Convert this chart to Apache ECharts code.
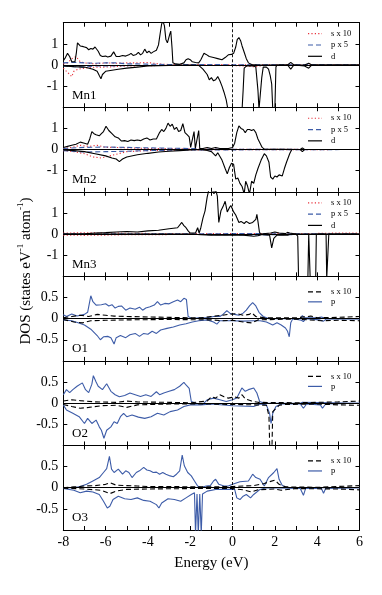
<!DOCTYPE html>
<html>
<head>
<meta charset="utf-8">
<script src="https://cdn.jsdelivr.net/npm/echarts@6/dist/echarts.min.js"></script>
<style>
  html, body { margin: 0; padding: 0; background: #fff; }
  #chart { width: 382px; height: 595px; }
</style>
</head>
<body>
<div id="chart"></div>
<script>
// energy tick labels (eV)
var xLabels = [-8, -6, -4, -2, 0, 2, 4, 6];

// ---- Mn1 ----
var mn1DUp = [[-8,0.2],[-7.9,0.35],[-7.8,0.55],[-7.7,0.4],[-7.6,0.15],[-7.45,0.15],[-7.38,0.6],[-7.33,1.05],[-7.2,0.9],[-7.1,0.88],[-7.0,0.85],[-6.9,0.82],[-6.8,0.72],[-6.7,0.78],[-6.6,0.75],[-6.5,0.85],[-6.42,0.92],[-6.35,0.65],[-6.25,0.45],[-6.15,0.4],[-6.0,0.42],[-5.9,0.38],[-5.75,0.42],[-5.62,0.62],[-5.5,0.4],[-5.35,0.4],[-5.2,0.45],[-5.05,0.42],[-4.9,0.48],[-4.8,0.55],[-4.7,0.45],[-4.55,0.5],[-4.45,0.6],[-4.35,0.48],[-4.25,0.55],[-4.15,0.75],[-4.05,0.58],[-3.95,0.65],[-3.85,0.55],[-3.75,0.62],[-3.6,0.7],[-3.5,0.95],[-3.42,1.5],[-3.35,1.95],[-3.28,2.05],[-3.22,1.85],[-3.15,1.2],[-3.08,1.05],[-3.02,1.1],[-2.97,1.45],[-2.92,1.6],[-2.86,0.8],[-2.82,0.1],[-2.7,0.05],[-2.5,0.03],[-2.3,0.1],[-2.2,0.25],[-2.1,0.3],[-2.0,0.25],[-1.9,0.15],[-1.75,0.12],[-1.6,0.1],[-1.5,0.25],[-1.35,0.55],[-1.25,0.5],[-1.1,0.4],[-0.9,0.35],[-0.7,0.3],[-0.5,0.25],[-0.35,0.35],[-0.2,0.48],[-0.05,0.5],[0.05,0.55],[0.15,0.85],[0.22,1.2],[0.3,1.3],[0.38,1.15],[0.45,0.9],[0.55,0.6],[0.65,0.3],[0.75,0.1],[0.9,0.02],[1.2,0],[2.6,0],[2.75,0.12],[2.9,0],[3.4,0],[3.6,0.08],[3.75,0],[6,0]];
var mn1DDn = [[-8,-0.05],[-7.5,-0.08],[-7.0,-0.1],[-6.6,-0.2],[-6.4,-0.3],[-6.3,-0.5],[-6.22,-0.65],[-6.15,-0.45],[-6.0,-0.3],[-5.7,-0.25],[-5.4,-0.2],[-5.0,-0.15],[-4.5,-0.1],[-4.0,-0.05],[-3.0,-0.02],[-2.0,0],[-1.6,-0.02],[-1.4,-0.2],[-1.2,-0.45],[-1.1,-0.7],[-1.0,-0.6],[-0.9,-0.75],[-0.8,-0.7],[-0.7,-0.55],[-0.6,-0.75],[-0.5,-1.0],[-0.4,-1.3],[-0.3,-1.65],[-0.22,-2.1],[0.45,-2.1],[0.5,-1.2],[0.55,-0.15],[0.65,-0.05],[0.8,-0.05],[1.0,-0.05],[1.1,-0.1],[1.2,-1.2],[1.25,-2.1],[1.33,-2.1],[1.38,-0.6],[1.45,-0.1],[1.6,-0.1],[1.7,-0.2],[1.78,-0.5],[1.85,-0.9],[1.9,-2.1],[2.0,-2.1],[2.05,-0.1],[2.1,0],[2.6,0],[2.75,-0.2],[2.9,0],[3.4,-0.05],[3.6,-0.15],[3.75,0],[6,0]];
var mn1SUp = [[-8,0.05],[-7.8,0.1],[-7.6,0.3],[-7.4,0.4],[-7.2,0.15],[-7,0.1],[-6.5,0.05],[-6,0.1],[-5.5,0.08],[-5,0.1],[-4.5,0.1],[-4,0.12],[-3.5,0.05],[-3,0.02],[-2,0.02],[-1,0.02],[0,0.01],[6,0.01]];
var mn1SDn = [[-8,-0.15],[-7.85,-0.3],[-7.7,-0.45],[-7.6,-0.55],[-7.5,-0.3],[-7.3,-0.2],[-7,-0.15],[-6.5,-0.1],[-6,-0.1],[-5,-0.05],[-4,-0.03],[-2,-0.02],[0,-0.02],[1,-0.08],[1.5,-0.02],[6,-0.01]];
var mn1PUp = [[-8,0.1],[-7.5,0.12],[-7,0.1],[-6.5,0.08],[-6,0.1],[-5.5,0.1],[-5,0.05],[-4.5,0.05],[-4,0.04],[-3.5,0.03],[-3,0.02],[-2,0.02],[-1,0.02],[0,0.01],[1,0.01],[6,0]];
var mn1PDn = [[-8,-0.05],[-7.5,-0.08],[-7,-0.1],[-6.5,-0.05],[-6,-0.05],[-5,-0.03],[-4,-0.02],[-2,-0.01],[0,-0.02],[6,0]];

// ---- Mn2 ----
var mn2DUp = [[-8,0.1],[-7.8,0.15],[-7.6,0.2],[-7.4,0.25],[-7.2,0.35],[-7.0,0.3],[-6.85,0.25],[-6.75,0.5],[-6.65,0.85],[-6.55,0.75],[-6.45,0.7],[-6.3,0.65],[-6.2,0.75],[-6.1,0.85],[-5.98,1.1],[-5.85,0.9],[-5.7,0.75],[-5.55,0.6],[-5.4,0.55],[-5.25,0.4],[-5.1,0.42],[-4.95,0.38],[-4.8,0.45],[-4.65,0.42],[-4.5,0.45],[-4.35,0.42],[-4.2,0.5],[-4.05,0.55],[-3.9,0.45],[-3.75,0.5],[-3.6,0.5],[-3.45,0.8],[-3.35,0.95],[-3.25,0.85],[-3.15,1.0],[-3.05,1.25],[-2.95,1.1],[-2.85,1.2],[-2.75,0.95],[-2.65,1.05],[-2.55,0.85],[-2.45,0.9],[-2.35,1.22],[-2.25,0.8],[-2.15,0.7],[-2.05,0.6],[-1.98,0.1],[-1.9,0.05],[-1.82,0.85],[-1.76,0.05],[-1.68,0.05],[-1.6,0.9],[-1.55,0.05],[-1.4,0.05],[-1.2,0.1],[-1.0,0.05],[-0.8,0.1],[-0.6,0.05],[-0.4,0.05],[-0.2,0.05],[0,0.1],[0.1,0.3],[0.2,0.8],[0.3,1.12],[0.4,1.0],[0.5,0.95],[0.6,0.8],[0.7,0.95],[0.8,0.95],[0.9,0.9],[1.0,0.95],[1.1,0.8],[1.2,0.5],[1.3,0.3],[1.4,0.1],[1.5,0.02],[3.2,0],[3.3,0.08],[3.4,0],[6,0]];
var mn2DDn = [[-8,-0.02],[-7.5,-0.05],[-7,-0.1],[-6.5,-0.2],[-6,-0.3],[-5.7,-0.4],[-5.5,-0.45],[-5.35,-0.57],[-5.2,-0.45],[-5,-0.35],[-4.5,-0.25],[-4,-0.18],[-3.5,-0.12],[-3,-0.08],[-2.5,-0.05],[-2,-0.02],[-1.5,0],[-1.2,-0.05],[-1.0,-0.1],[-0.8,-0.3],[-0.7,-0.15],[-0.5,-0.5],[-0.35,-0.9],[-0.25,-1.15],[-0.15,-0.85],[-0.05,-0.65],[0.05,-0.7],[0.15,-1.4],[0.25,-1.35],[0.35,-1.6],[0.45,-1.75],[0.55,-2.1],[0.62,-1.5],[0.7,-1.7],[0.8,-2.1],[0.9,-1.5],[1.0,-1.6],[1.1,-1.2],[1.2,-0.9],[1.35,-0.5],[1.5,-0.2],[1.6,-0.3],[1.72,-0.6],[1.8,-1.3],[1.9,-1.4],[2.0,-1.25],[2.1,-1.3],[2.2,-1.2],[2.35,-1.25],[2.45,-0.9],[2.55,-0.6],[2.7,-0.2],[2.8,0],[3.2,0],[3.3,-0.1],[3.4,0],[6,0]];
var mn2SUp = [[-8,0.05],[-7.6,0.1],[-7.2,0.2],[-6.8,0.15],[-6.4,0.2],[-6,0.1],[-5.5,0.1],[-5,0.08],[-4,0.05],[-3,0.05],[-2,0.03],[0,0.01],[6,0]];
var mn2SDn = [[-8,-0.05],[-7.5,-0.1],[-7,-0.2],[-6.6,-0.35],[-6.2,-0.4],[-5.8,-0.3],[-5.4,-0.2],[-5,-0.1],[-4,-0.05],[-2,-0.02],[0,-0.01],[6,0]];
var mn2PUp = [[-8,0.05],[-7,0.1],[-6,0.12],[-5,0.1],[-4,0.08],[-3,0.06],[-2,0.05],[-1,0.02],[0,0.01],[6,0]];
var mn2PDn = [[-8,-0.05],[-7,-0.12],[-6,-0.1],[-5,-0.08],[-4,-0.05],[-2,-0.02],[6,0]];

// ---- Mn3 ----
var mn3DUp = [[-8,0],[-7,0.01],[-6.5,0.05],[-6,0.07],[-5.5,0.1],[-5,0.12],[-4.5,0.1],[-4,0.15],[-3.5,0.18],[-3,0.25],[-2.6,0.3],[-2.4,0.55],[-2.3,0.4],[-2.2,0.3],[-2.1,0.15],[-2.0,0.05],[-1.85,0.05],[-1.75,0.05],[-1.65,0.3],[-1.58,0.05],[-1.5,0.3],[-1.4,0.75],[-1.3,1.1],[-1.2,1.75],[-1.12,2.1],[-0.95,2.1],[-0.88,1.9],[-0.8,2.1],[-0.72,1.8],[-0.65,0.55],[-0.55,1.1],[-0.45,1.3],[-0.35,1.55],[-0.25,1.05],[-0.15,1.25],[-0.08,1.35],[0.05,1.05],[0.15,0.9],[0.3,0.55],[0.4,0.6],[0.55,0.5],[0.65,0.6],[0.8,0.5],[0.95,0.55],[1.1,0.7],[1.15,0.93],[1.2,0.6],[1.27,0.1],[1.32,0],[1.8,0.05],[2.0,0.1],[2.2,0.05],[2.5,0.02],[2.6,0.08],[2.7,0.05],[3,0],[6,0]];
var mn3DDn = [[-8,0],[-2,0],[-1.5,-0.03],[-1,-0.05],[-0.5,-0.05],[0,-0.05],[0.5,-0.05],[1.0,-0.1],[1.2,-0.08],[1.4,-0.02],[1.75,-0.05],[1.85,-0.65],[1.95,-0.2],[2.1,-0.05],[2.6,-0.05],[2.7,-0.02],[3.0,0],[3.08,-0.1],[3.12,-2.1],[3.56,-2.1],[3.6,0],[3.64,0],[3.67,-2.1],[3.93,-2.1],[3.96,0],[4.42,0],[4.45,-2.1],[4.52,-2.1],[4.55,0],[6,0]];
var mn3SUp = [[-8,0.05],[-7,0.06],[-6,0.05],[-5,0.04],[-4,0.03],[-2,0.02],[0,0.02],[2,0.02],[4,0.03],[5,0.05],[6,0.05]];
var mn3SDn = [[-8,-0.05],[-7,-0.06],[-6,-0.05],[-5,-0.03],[-2,-0.02],[6,-0.01]];
var mn3PUp = [[-8,0],[-2,0.01],[0,0.02],[1.3,0.02],[6,0]];
var mn3PDn = [[-8,0],[-2,-0.02],[0,-0.03],[1,-0.05],[2,-0.03],[6,0]];

// ---- O1 ----
var o1PUp = [[-8,0.09],[-7.85,0.05],[-7.6,0.11],[-7.35,0.06],[-7,0.1],[-6.85,0.15],[-6.7,0.54],[-6.6,0.4],[-6.45,0.32],[-6.2,0.33],[-6,0.35],[-5.85,0.3],[-5.7,0.33],[-5.55,0.25],[-5.4,0.29],[-5.25,0.3],[-5.05,0.2],[-4.85,0.25],[-4.6,0.22],[-4.4,0.27],[-4.25,0.2],[-4.1,0.25],[-3.9,0.28],[-3.7,0.32],[-3.55,0.4],[-3.4,0.32],[-3.2,0.36],[-3.0,0.35],[-2.8,0.4],[-2.6,0.44],[-2.45,0.4],[-2.3,0.48],[-2.18,0.45],[-2.1,0.05],[-1.9,0],[-1.6,0.02],[-1.2,0.02],[-0.9,0.05],[-0.6,0.05],[-0.45,0.1],[-0.27,0.19],[-0.1,0.12],[0.1,0.1],[0.3,0.08],[0.5,0.13],[0.65,0.2],[0.8,0.3],[0.95,0.38],[1.1,0.3],[1.25,0.15],[1.45,0.05],[1.7,0],[3.2,0],[3.3,0.07],[3.4,0.02],[4.0,0.02],[4.2,0.04],[4.4,0],[6,0]];
var o1PDn = [[-8,-0.03],[-7.6,-0.05],[-7.3,-0.1],[-7,-0.15],[-6.7,-0.25],[-6.4,-0.4],[-6.25,-0.5],[-6.1,-0.43],[-5.9,-0.42],[-5.75,-0.45],[-5.6,-0.6],[-5.5,-0.45],[-5.3,-0.4],[-5.05,-0.45],[-4.85,-0.38],[-4.6,-0.35],[-4.4,-0.42],[-4.2,-0.35],[-4.0,-0.37],[-3.8,-0.3],[-3.6,-0.35],[-3.4,-0.27],[-3.1,-0.23],[-2.8,-0.2],[-2.5,-0.15],[-2.2,-0.12],[-1.9,-0.08],[-1.6,-0.05],[-1.2,-0.03],[-0.9,-0.08],[-0.74,-0.13],[-0.6,-0.05],[-0.3,-0.05],[0,-0.05],[0.5,-0.06],[1.0,-0.05],[1.3,-0.05],[1.6,-0.08],[1.9,-0.15],[2.1,-0.1],[2.3,-0.15],[2.5,-0.22],[2.6,-0.3],[2.68,-0.43],[2.75,-0.1],[2.85,0],[3.25,-0.04],[3.35,-0.07],[3.45,0],[4.1,-0.03],[4.3,-0.06],[4.45,0],[6,-0.01]];
var o1SUp = [[-8,0.02],[-7.6,0.05],[-7.2,0.08],[-6.8,0.05],[-6.4,0.1],[-6,0.08],[-5.6,0.06],[-5,0.05],[-4,0.04],[-3,0.03],[-2,0.02],[-1.5,0.02],[-1,0.05],[-0.5,0.08],[-0.2,0.1],[0.2,0.12],[0.5,0.08],[0.8,0.1],[0.9,0.14],[1.1,0.05],[1.5,0.02],[3,0.02],[3.7,0.06],[4,0.02],[5,0.03],[6,0.05]];
var o1SDn = [[-8,-0.02],[-7.5,-0.08],[-7.1,-0.1],[-6.7,-0.05],[-6,-0.04],[-5,-0.03],[-3,-0.02],[-1,-0.03],[-0.5,-0.05],[0,-0.04],[0.5,-0.08],[0.9,-0.1],[1.2,-0.03],[2,-0.02],[3,-0.01],[4.2,-0.05],[5,-0.04],[6,-0.05]];

// ---- O2 ----
var o2PUp = [[-8,0.2],[-7.85,0.32],[-7.7,0.25],[-7.55,0.32],[-7.35,0.4],[-7.1,0.48],[-6.95,0.32],[-6.8,0.25],[-6.65,0.45],[-6.58,0.65],[-6.45,0.5],[-6.35,0.4],[-6.15,0.32],[-5.95,0.46],[-5.75,0.28],[-5.55,0.2],[-5.35,0.15],[-5.1,0.18],[-4.85,0.24],[-4.6,0.2],[-4.35,0.16],[-4.1,0.2],[-3.85,0.16],[-3.6,0.27],[-3.45,0.2],[-3.25,0.24],[-3.0,0.28],[-2.75,0.32],[-2.5,0.4],[-2.3,0.49],[-2.2,0.43],[-2.05,0.35],[-1.95,0.04],[-1.7,0],[-1.4,-0.02],[-1.2,0.08],[-0.9,0.12],[-0.6,0.08],[-0.3,0.04],[0,0.08],[0.2,0.12],[0.44,0.36],[0.6,0.28],[0.75,0.32],[1.0,0.36],[1.15,0.24],[1.28,0.04],[1.5,0],[3.2,0],[3.3,0.02],[6,0]];
var o2PDn = [[-8,-0.04],[-7.85,-0.16],[-7.55,-0.24],[-7.25,-0.32],[-7.0,-0.48],[-6.85,-0.36],[-6.65,-0.48],[-6.45,-0.4],[-6.3,-0.56],[-6.2,-0.64],[-6.08,-0.83],[-5.95,-0.64],[-5.75,-0.56],[-5.6,-0.44],[-5.45,-0.48],[-5.3,-0.32],[-5.15,-0.24],[-5.0,-0.32],[-4.75,-0.28],[-4.45,-0.33],[-4.15,-0.36],[-3.85,-0.32],[-3.55,-0.24],[-3.25,-0.28],[-2.95,-0.2],[-2.6,-0.16],[-2.3,-0.08],[-2.0,-0.04],[-1.5,-0.04],[-1.0,-0.02],[0,-0.06],[1.0,-0.08],[1.3,-0.02],[1.6,-0.04],[1.75,-0.24],[1.82,-0.48],[1.9,-0.24],[2.05,-0.08],[2.3,-0.02],[3.2,-0.02],[3.35,-0.12],[3.5,-0.02],[4.15,-0.04],[4.25,-0.12],[4.4,-0.02],[6,0]];
var o2SUp = [[-8,0.05],[-7.6,0.08],[-7.2,0.06],[-6.5,0.03],[-5.5,0.02],[-5,0.05],[-4.5,0.03],[-3,0.02],[-2,0.01],[-1.2,0.05],[-1.0,0.15],[-0.8,0.12],[-0.6,0.2],[-0.4,0.15],[-0.2,0.12],[0.1,0.15],[0.3,0.12],[0.45,0.2],[0.6,0.1],[0.9,0.05],[1.2,0.02],[3,0.01],[5,0.03],[6,0.05]];
var o2SDn = [[-8,-0.03],[-7.6,-0.08],[-7.2,-0.12],[-6.8,-0.1],[-6.2,-0.06],[-5.5,-0.05],[-5,-0.1],[-4.5,-0.04],[-3,-0.02],[-1,-0.02],[0,-0.03],[1,-0.04],[1.6,-0.05],[1.72,-0.3],[1.76,-1.1],[1.86,-1.1],[1.9,-0.2],[2.2,-0.05],[2.5,-0.03],[4,-0.02],[5,-0.04],[6,-0.05]];

// ---- O3 ----
var o3PUp = [[-8,0],[-7.5,0],[-7.2,0.03],[-6.9,0.08],[-6.6,0.16],[-6.3,0.24],[-6.1,0.36],[-5.95,0.45],[-5.82,0.74],[-5.72,0.44],[-5.6,0.36],[-5.4,0.44],[-5.2,0.32],[-5.05,0.4],[-4.9,0.36],[-4.75,0.24],[-4.55,0.36],[-4.4,0.4],[-4.2,0.48],[-4.05,0.42],[-3.9,0.4],[-3.75,0.36],[-3.6,0.37],[-3.45,0.32],[-3.3,0.36],[-3.15,0.32],[-2.95,0.28],[-2.8,0.26],[-2.65,0.32],[-2.5,0.4],[-2.38,0.77],[-2.28,0.52],[-2.12,0.36],[-1.95,0.28],[-1.8,0.16],[-1.65,0.04],[-1.5,0],[-1.25,0.04],[-1.05,0.05],[-0.9,0.16],[-0.8,0.2],[-0.65,0.08],[-0.4,0.04],[-0.2,0.04],[0,0.08],[0.35,0.14],[0.75,0.16],[0.95,0.32],[1.1,0.24],[1.3,0.2],[1.5,0.04],[1.7,0.24],[1.95,0.36],[2.1,0.45],[2.2,0.2],[2.35,0.05],[2.6,0],[6,0]];
var o3PDn = [[-8,-0.02],[-7.5,-0.06],[-7.2,-0.12],[-6.9,-0.08],[-6.6,-0.1],[-6.3,-0.16],[-6.1,-0.32],[-5.92,-0.48],[-5.8,-0.44],[-5.65,-0.28],[-5.4,-0.2],[-5.1,-0.26],[-4.8,-0.28],[-4.5,-0.24],[-4.2,-0.3],[-3.9,-0.32],[-3.6,-0.4],[-3.48,-0.48],[-3.35,-0.36],[-3.05,-0.26],[-2.75,-0.28],[-2.45,-0.32],[-2.2,-0.24],[-1.95,-0.16],[-1.8,-0.12],[-1.75,-1.1],[-1.68,-0.15],[-1.62,-1.1],[-1.55,-0.15],[-1.48,-1.1],[-1.42,-0.15],[-1.2,-0.08],[-0.8,-0.04],[-0.3,-0.04],[0.1,-0.04],[0.2,-0.24],[0.35,-0.28],[0.5,-0.2],[0.65,-0.16],[0.85,-0.24],[1.0,-0.16],[1.3,-0.04],[1.6,0],[3.2,-0.02],[3.35,-0.18],[3.45,-0.02],[4.2,-0.02],[4.3,-0.13],[4.4,-0.02],[6,0]];
var o3SUp = [[-8,0],[-7.5,0.02],[-7,0.04],[-6.5,0.05],[-6,0.08],[-5.8,0.12],[-5.5,0.06],[-5,0.05],[-4.5,0.04],[-4,0.03],[-3,0.03],[-2,0.02],[-1,0.02],[0,0.03],[1,0.05],[1.5,0.1],[1.8,0.15],[2.0,0.18],[2.2,0.08],[2.5,0.02],[4,0.01],[5,0.03],[6,0.05]];
var o3SDn = [[-8,-0.01],[-7,-0.03],[-6.2,-0.06],[-5.8,-0.14],[-5.5,-0.08],[-5,-0.04],[-4,-0.03],[-2,-0.02],[0,-0.02],[0.5,-0.05],[0.9,-0.1],[1.2,-0.05],[2,-0.03],[2.3,-0.06],[3,-0.02],[5,-0.03],[6,-0.05]];

var RED = '#e8303a', BLUE = '#3d5ca8', FONT = '"Liberation Serif", "Times New Roman", serif';

var panels = [
  { name: 'Mn1', min: -2, max: 2, step: 1, kind: 'mn', s: [mn1SUp, mn1SDn], p: [mn1PUp, mn1PDn], d: [mn1DUp, mn1DDn] },
  { name: 'Mn2', min: -2, max: 2, step: 1, kind: 'mn', s: [mn2SUp, mn2SDn], p: [mn2PUp, mn2PDn], d: [mn2DUp, mn2DDn] },
  { name: 'Mn3', min: -2, max: 2, step: 1, kind: 'mn', s: [mn3SUp, mn3SDn], p: [mn3PUp, mn3PDn], d: [mn3DUp, mn3DDn] },
  { name: 'O1', min: -1, max: 1, step: 0.5, kind: 'o', s: [o1SUp, o1SDn], p: [o1PUp, o1PDn] },
  { name: 'O2', min: -1, max: 1, step: 0.5, kind: 'o', s: [o2SUp, o2SDn], p: [o2PUp, o2PDn] },
  { name: 'O3', min: -1, max: 1, step: 0.5, kind: 'o', s: [o3SUp, o3SDn], p: [o3PUp, o3PDn] }
];

// legend entries per panel kind
var legendItems = {
  mn: [
    { label: 's x 10', color: RED, dash: [1.2, 2.2] },
    { label: 'p x 5', color: BLUE, dash: [5, 3] },
    { label: 'd', color: '#000', dash: null }
  ],
  o: [
    { label: 's x 10', color: '#000', dash: [5, 3] },
    { label: 'p', color: BLUE, dash: null }
  ]
};

var LEFT = 63.3, RIGHT = 359.5, TOP = 22.7, PH = 84.55;

var grids = [], xAxes = [], yAxes = [], series = [], graphics = [];

function addLine(gi, data, color, type, extra) {
  var s = {
    type: 'line', xAxisIndex: gi * 2, yAxisIndex: gi * 2, data: data,
    symbol: 'none', showSymbol: false, clip: true, silent: true,
    lineStyle: { color: color, width: 1.1, type: type }
  };
  if (extra) s.markLine = extra;
  series.push(s);
}

panels.forEach(function (p, i) {
  var top = TOP + i * PH;
  grids.push({ left: LEFT, top: top, width: RIGHT - LEFT, height: PH });

  var xBase = {
    gridIndex: i, type: 'value', min: -8, max: 6, interval: 1,
    axisLine: { onZero: false, lineStyle: { color: '#000', width: 1 } },
    axisTick: { inside: true, length: 4, lineStyle: { color: '#000' } },
    splitLine: { show: false }
  };
  xAxes.push(Object.assign({}, xBase, {
    position: 'bottom',
    axisLabel: {
      show: i === panels.length - 1, color: '#000', fontSize: 14, fontFamily: FONT, margin: 5,
      formatter: function (v) { return xLabels.indexOf(v) >= 0 ? String(v) : ''; }
    }
  }));
  xAxes.push(Object.assign({}, xBase, { position: 'top', axisLabel: { show: false } }));

  var yBase = {
    gridIndex: i, type: 'value', min: p.min, max: p.max, interval: p.step,
    axisLine: { onZero: false, lineStyle: { color: '#000', width: 1 } },
    axisTick: { inside: true, length: 4, lineStyle: { color: '#000' } },
    splitLine: { show: false }
  };
  yAxes.push(Object.assign({}, yBase, {
    position: 'left',
    axisLabel: { color: '#000', fontSize: 14, fontFamily: FONT, margin: 5, showMinLabel: false, showMaxLabel: false }
  }));
  yAxes.push(Object.assign({}, yBase, { position: 'right', axisLabel: { show: false } }));

  // zero line + Fermi level
  var marks = {
    silent: true, symbol: 'none', label: { show: false }, animation: false,
    data: [
      { yAxis: 0, lineStyle: { color: '#000', width: 1, type: 'solid' } },
      { xAxis: 0, lineStyle: { color: '#000', width: 0.9, type: [3, 2] } }
    ]
  };

  if (p.kind === 'mn') {
    addLine(i, p.s[0], RED, [1.2, 2.2], marks);
    addLine(i, p.s[1], RED, [1.2, 2.2]);
    addLine(i, p.p[0], BLUE, [5, 3]);
    addLine(i, p.p[1], BLUE, [5, 3]);
    addLine(i, p.d[0], '#000', 'solid');
    addLine(i, p.d[1], '#000', 'solid');
  } else {
    addLine(i, p.p[0], BLUE, 'solid', marks);
    addLine(i, p.p[1], BLUE, 'solid');
    addLine(i, p.s[0], '#000', [5, 3]);
    addLine(i, p.s[1], '#000', [5, 3]);
  }

  // panel label
  graphics.push({
    type: 'text', x: 72, y: top + PH - 12,
    style: { text: p.name, font: '13px ' + FONT, fill: '#000', verticalAlign: 'middle', textVerticalAlign: 'middle' }
  });

  // legend
  var items = legendItems[p.kind];
  var y0 = top + (p.kind === 'mn' ? 11 : 15.5), dy = p.kind === 'mn' ? 11.3 : 10;
  items.forEach(function (it, k) {
    var yy = y0 + k * dy;
    graphics.push({
      type: 'line', shape: { x1: 308, y1: yy, x2: 322, y2: yy },
      style: { stroke: it.color, lineWidth: 1.2, lineDash: it.dash }
    });
    graphics.push({
      type: 'text', x: 331, y: yy,
      style: { text: it.label, font: '8.5px ' + FONT, fill: '#000', verticalAlign: 'middle', textVerticalAlign: 'middle' }
    });
  });
});

// axis titles
graphics.push({
  type: 'text', x: 25, y: 271, rotation: Math.PI / 2,
  style: {
    text: '{a|DOS (states eV}{s|-1}{a| atom}{s|-1}{a|)}',
    align: 'center', verticalAlign: 'middle', textAlign: 'center', textVerticalAlign: 'middle',
    fill: '#000',
    rich: {
      a: { fontSize: 15, fontFamily: FONT, lineHeight: 17, verticalAlign: 'bottom' },
      s: { fontSize: 9, fontFamily: FONT, lineHeight: 17, verticalAlign: 'top' }
    }
  }
});
graphics.push({
  type: 'text', x: (LEFT + RIGHT) / 2, y: 563,
  style: { text: 'Energy (eV)', font: '15px ' + FONT, fill: '#000', align: 'center', verticalAlign: 'middle', textAlign: 'center', textVerticalAlign: 'middle' }
});

var chart = echarts.init(document.getElementById('chart'), null, { renderer: 'canvas' });
chart.setOption({
  animation: false,
  backgroundColor: '#fff',
  grid: grids,
  xAxis: xAxes,
  yAxis: yAxes,
  series: series,
  graphic: { elements: graphics }
});
</script>
</body>
</html>
